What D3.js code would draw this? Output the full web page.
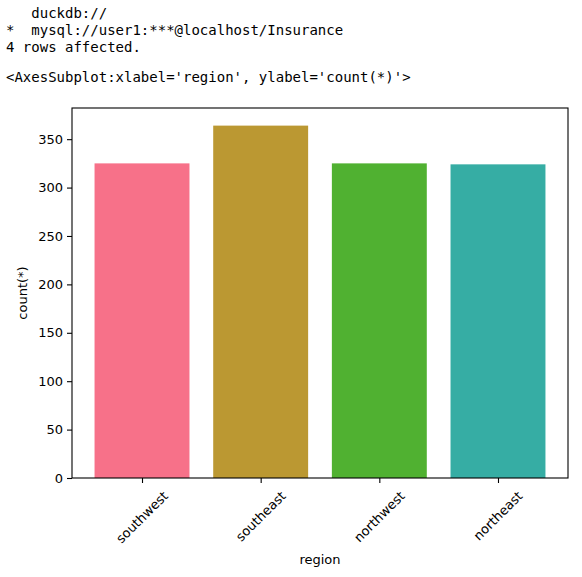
<!DOCTYPE html>
<html><head><meta charset="utf-8">
<script src="https://cdn.jsdelivr.net/npm/d3@7"></script>
<style>body{margin:0;background:#fff;}</style>
</head><body>
<svg id="c" width="582" height="577"></svg>
<script>
const headerLines = ["   duckdb://", "*  mysql://user1:***@localhost/Insurance", "4 rows affected."];
const reprLine = "<AxesSubplot:xlabel='region', ylabel='count(*)'>";
const categories = ["southwest", "southeast", "northwest", "northeast"];
const counts = [325, 364, 325, 324];
const colors = ["#f77189", "#bb9832", "#50b131", "#36ada4"];
const yTicks = [0, 50, 100, 150, 200, 250, 300, 350];

const svg = d3.select("#c");
const mono = "'DejaVu Sans Mono', monospace";
const sans = "'DejaVu Sans', sans-serif";

headerLines.forEach((t, i) => {
  svg.append("text").attr("x", 6).attr("y", 18 + i * 17)
    .attr("font-family", mono).attr("font-size", 14).attr("xml:space", "preserve")
    .style("white-space", "pre").text(t);
});
svg.append("text").attr("x", 6).attr("y", 82)
  .attr("font-family", mono).attr("font-size", 14).style("white-space", "pre").text(reprLine);

const L = 72, R = 568, T = 108, B = 478;
const x = d3.scaleLinear().domain([-0.59, categories.length - 1 + 0.59]).range([L, R]);
const y = d3.scaleLinear().domain([0, d3.max(counts) * 1.05]).range([B, T]);
const bw = x(0.8) - x(0);

svg.append("g").selectAll("rect").data(categories).join("rect")
  .attr("x", (d, i) => x(i) - bw / 2).attr("width", bw)
  .attr("y", (d, i) => y(counts[i])).attr("height", (d, i) => B - y(counts[i]))
  .attr("fill", (d, i) => colors[i]);

// y axis
const ya = svg.append("g").attr("transform", `translate(${L},0)`)
  .call(d3.axisLeft(y).tickValues(yTicks).tickSize(5).tickPadding(4));
ya.select(".domain").remove();
ya.selectAll("text").attr("font-family", sans).attr("font-size", 13).attr("fill", "#000");
ya.selectAll("line").attr("stroke", "#000").attr("stroke-width", 1.1);

// x axis ticks
const xa = svg.append("g").attr("transform", `translate(0,${B})`)
  .call(d3.axisBottom(x).tickValues(d3.range(categories.length)).tickSize(5).tickFormat(""));
xa.select(".domain").remove();
xa.selectAll("line").attr("stroke", "#000").attr("stroke-width", 1.1);

categories.forEach((c, i) => {
  const t = svg.append("text").attr("font-family", sans).attr("font-size", 13)
    .attr("text-anchor", "middle").attr("dominant-baseline", "central").text(c);
  const len = t.node().getComputedTextLength();
  const half = (len * Math.SQRT1_2 + 13 * Math.SQRT1_2) / 2;
  const cx = x(i), cy = 489 + half;
  t.attr("transform", `translate(${cx},${cy}) rotate(-45)`);
});

// spines
svg.append("rect").attr("x", L).attr("y", T).attr("width", R - L).attr("height", B - T)
  .attr("fill", "none").attr("stroke", "#000").attr("stroke-width", 1.1);

svg.append("text").attr("x", (L + R) / 2).attr("y", 564).attr("text-anchor", "middle")
  .attr("font-family", sans).attr("font-size", 13).text("region");
svg.append("text").attr("transform", `translate(27,${(T + B) / 2}) rotate(-90)`)
  .attr("text-anchor", "middle").attr("font-family", sans).attr("font-size", 13).text("count(*)");
</script>
</body></html>
